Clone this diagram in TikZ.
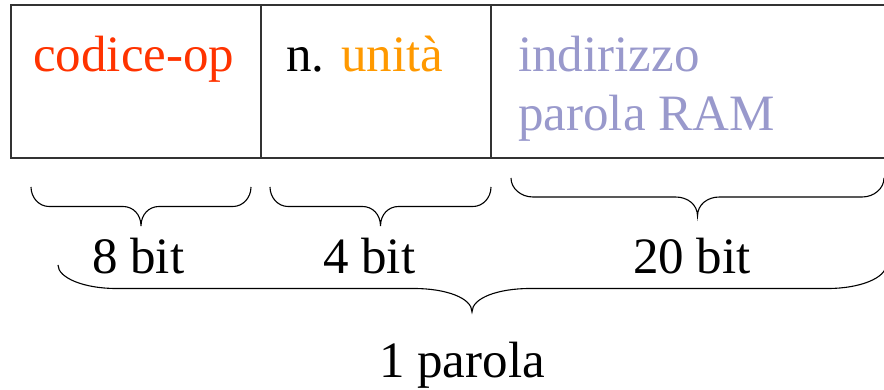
\documentclass[tikz,border=0pt]{standalone}
\usepackage{fontspec}
\setmainfont{Liberation Serif}
\definecolor{opred}{HTML}{FF3300}
\definecolor{unitorange}{HTML}{FF9900}
\definecolor{addrlav}{HTML}{9999CC}
\newcommand\bracedown[5]{% x0 x1 y0 h r
  \draw[bracestyle] (#1,#3) .. controls (#1,{#3+0.55*#4}) and ({#1+0.45*#5},{#3+#4}) .. ({#1+#5},{#3+#4})
   -- ({(#1+#2)/2-#5},{#3+#4}) .. controls ({(#1+#2)/2-0.45*#5},{#3+#4}) and ({(#1+#2)/2},{#3+1.4*#4}) .. ({(#1+#2)/2},{#3+2*#4})
   .. controls ({(#1+#2)/2},{#3+1.4*#4}) and ({(#1+#2)/2+0.45*#5},{#3+#4}) .. ({(#1+#2)/2+#5},{#3+#4})
   -- ({#2-#5},{#3+#4}) .. controls ({#2-0.45*#5},{#3+#4}) and (#2,{#3+0.55*#4}) .. (#2,#3);}
\begin{document}
\begin{tikzpicture}[x=1pt,y=-1pt,
  txt/.style={anchor=base west, inner sep=0pt, font=\fontsize{51}{59}\selectfont},
  framestyle/.style={draw=black!80, line width=1.4pt},
  bracestyle/.style={draw=black, line width=1.1pt}]
\useasboundingbox (0,0) rectangle (884,390);
% frame
\draw[framestyle] (886,5) -- (11,5) -- (11,158) -- (886,158);
\draw[framestyle] (261,5) -- (261,158);
\draw[framestyle] (491,5) -- (491,158);
% field texts
\node[txt, text=opred] (op) at (33,72) {codice-op};
\node[txt] (unit) at (286,72) {n. \textcolor{unitorange}{unità}};
\node[txt, text=addrlav] (addr1) at (518,72) {indirizzo};
\node[txt, text=addrlav] (addr2) at (518,131) {parola RAM};
% braces
\bracedown{31}{251}{187}{19.5}{18}
\bracedown{270}{491}{187}{19.5}{18}
\bracedown{511}{884}{178}{19}{22}
\bracedown{58}{886}{265}{23.5}{58}
% brace labels
\node[txt] (b8) at (92,273) {8 bit};
\node[txt] (b4) at (323,273) {4 bit};
\node[txt] (b20) at (633,273) {20 bit};
\node[txt] (word) at (379,377) {1 parola};
\end{tikzpicture}
\end{document}
